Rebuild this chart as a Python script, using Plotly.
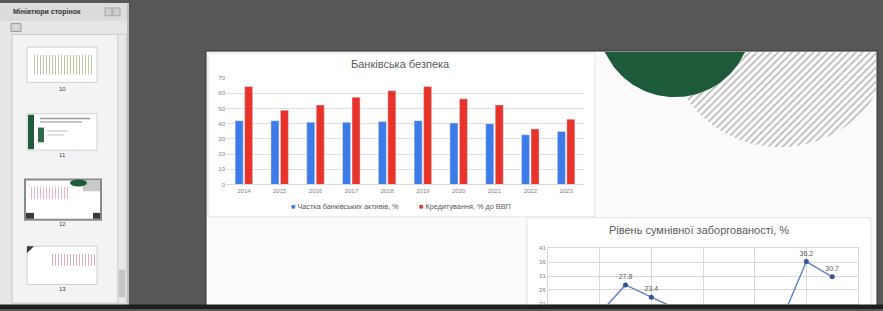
import numpy as np
import plotly.graph_objects as go

# ---------------- data ----------------
years = ["2014", "2015", "2016", "2017", "2018", "2019", "2020", "2021", "2022", "2023"]
bank_assets_share = [42, 42, 41, 41, 41.5, 42, 40.5, 40, 32.7, 34.9]
credit_to_gdp = [64.6, 48.9, 52.4, 57.5, 61.8, 64.6, 56.4, 52.4, 36.6, 43]
series_names = ["Частка банківських активів, %", "Кредитування, % до ВВП"]

doubt_years = [2014, 2015, 2016, 2017, 2018, 2019, 2020, 2021, 2022, 2023]
doubtful_debt = [17.6, 27.8, 23.4, 19.1, 16.0, 15.3, 14.7, 14.2, 36.2, 30.7]

bar_title = "Банківська безпека"
line_title = "Рівень сумнівної заборгованості, %"
panel_title = "Мініатюри сторінок"
page_numbers = ["10", "11", "12", "13"]

BLUE, RED = "#3d7be8", "#e8332b"

# ---------------- helpers (pixel -> paper) ----------------
W, H = 883, 311
def px(x): return x / W
def py(y): return 1 - y / H

FONT = "Liberation Sans, Arial, sans-serif"
shapes = []
def rect(x0, y0, x1, y1, fill, line=None, lw=1, layer="below"):
    shapes.append(dict(type="rect", xref="paper", yref="paper",
                       x0=px(x0), x1=px(x1), y0=py(y1), y1=py(y0),
                       fillcolor=fill, layer=layer,
                       line=dict(color=line or fill, width=lw if line else 0)))

# app background & left panel
rect(0, 0, 128, 311, "#e6e6e6")
rect(0, 0, 128, 18, "#dcdcdc")
rect(105, 5, 112, 13, "#cfcfcf", "#a8a8a8")
rect(113, 5, 120, 13, "#cfcfcf", "#a8a8a8")
rect(11, 21, 21, 29, "#d4d4d4", "#9a9a9a")
rect(12, 32, 118, 306, "#f3f3f5", "#c8c8c8")
rect(118, 32, 126, 306, "#e9e9e9", "#d0d0d0")
rect(119, 272, 125, 300, "#c4c4c4")
rect(127, 0, 129, 311, "#bdbdbd")
# thumbnails
rect(27, 45, 97, 81, "#ffffff", "#cfcfcf")
rect(27, 113, 97, 150, "#ffffff", "#cfcfcf")
rect(28, 114, 34, 149, "#1f5a3b")
rect(38, 127, 44, 142, "#2f6a4a")
rect(40, 117, 90, 118.5, "#9a9a9a")
rect(40, 120.5, 82, 122, "#b0b0b0")
rect(47, 130, 68, 131, "#c0c0c0")
rect(47, 134, 64, 135, "#c0c0c0")
rect(25, 180, 101, 221, "#ffffff", "#8a8a8a", 2)
rect(83, 181, 100, 192, "#c9c9c9")
rect(26, 214, 34, 220, "#3a3a3a")
rect(93, 214, 100, 220, "#3a3a3a")
rect(27, 248, 97, 287, "#ffffff", "#cfcfcf")
shapes.append(dict(type="circle", xref="paper", yref="paper", layer="below",
                   x0=px(70), x1=px(87), y0=py(187), y1=py(180),
                   fillcolor="#1f5a3b", line=dict(width=0)))
shapes.append(dict(type="path", xref="paper", yref="paper", layer="below",
                   path=f"M{px(27)},{py(248)} L{px(34)},{py(248)} L{px(27)},{py(255)} Z",
                   fillcolor="#3a3a3a", line=dict(width=0)))

# slide
rect(206, 49, 877, 310, "#fdfafc", "#333333", 1)
rect(208, 51, 595, 218, "#ffffff", "#e3e3e3")
rect(527, 219, 871, 310, "#ffffff", "#e3e3e3")
# bottom dark strip
rect(0, 307.5, 883, 312, "#1f1f22", layer="above")

fig = go.Figure()

# ---------- decorative pixel-space traces (xaxis/yaxis covering whole figure) ----------
def poly_rect(x0, y0, x1, y1):
    return [x0, x1, x1, x0, x0], [y0, y0, y1, y1, y0]

def stripes(x0, y0, x1, y1, color, size=3):
    xs, ys = poly_rect(x0, y0, x1, y1)
    fig.add_trace(go.Scatter(x=xs, y=ys, fill="toself", mode="lines", line=dict(width=0),
                             fillcolor="rgba(0,0,0,0)",
                             fillpattern=dict(shape="|", fgcolor=color, bgcolor="rgba(255,255,255,0)",
                                              size=size, solidity=0.35),
                             hoverinfo="skip", showlegend=False, xaxis="x", yaxis="y"))

stripes(33, 53, 93, 73, "#7a9a4a")
stripes(30, 187, 68, 200, "#d4708e")
stripes(52, 256, 96, 268, "#c85a72")

t = np.linspace(0, 2 * np.pi, 181)
# hatched disc
hx = np.clip(780 + 112 * np.cos(t), 206, 876)
hy = np.clip(35 + 112 * np.sin(t), 50, 400)
fig.add_trace(go.Scatter(x=hx, y=hy, fill="toself", mode="lines", line=dict(width=0),
                         fillcolor="rgba(0,0,0,0)",
                         fillpattern=dict(shape="/", fgcolor="#6e6e6e", bgcolor="rgba(255,255,255,0)",
                                          size=5, solidity=0.3),
                         hoverinfo="skip", showlegend=False, xaxis="x", yaxis="y"))
# green disc
gx = 675 + 76 * np.cos(t)
gy = np.clip(20 + 76 * np.sin(t), 50, 400)
fig.add_trace(go.Scatter(x=gx, y=gy, fill="toself", mode="lines", line=dict(width=0),
                         fillcolor="#1c5a3a", hoverinfo="skip", showlegend=False,
                         xaxis="x", yaxis="y"))

# ---------------- bar chart ----------------
fig.add_trace(go.Bar(x=years, y=bank_assets_share, name=series_names[0], showlegend=False,
                     marker_color=BLUE, xaxis="x2", yaxis="y2"))
fig.add_trace(go.Bar(x=years, y=credit_to_gdp, name=series_names[1], showlegend=False,
                     marker_color=RED, xaxis="x2", yaxis="y2"))

# ---------------- line chart ----------------
Y3_MIN = 41 - 57 / 2.84
labels = [f"{v:.1f}" if v > Y3_MIN - 4 else "" for v in doubtful_debt]  # only labels in view
fig.add_trace(go.Scatter(x=doubt_years, y=doubtful_debt, mode="lines+markers+text",
                         text=labels, textposition="top center",
                         textfont=dict(size=7, color="#595959", family=FONT),
                         line=dict(color="#6585c8", width=1.5),
                         marker=dict(color="#34549a", size=5), cliponaxis=False,
                         showlegend=False, xaxis="x3", yaxis="y3"))

def ann(text, x, y, size, color, xanchor="center"):
    return dict(text=text, x=px(x), y=py(y), xref="paper", yref="paper",
                xanchor=xanchor, yanchor="middle", showarrow=False,
                font=dict(size=size, color=color, family=FONT))

annotations = [
    ann(bar_title, 400, 62, 11, "#595959"),
    ann(line_title, 699, 231, 11, "#595959"),
    ann("<b>" + panel_title + "</b>", 11, 9, 7, "#333333", "left"),
]
# legend of the bar chart (compact key + label, as in the original)
for nm, col, lx in zip(series_names, [BLUE, RED], [289, 417]):
    annotations.append(ann(f'<span style="color:{col}">■</span> {nm}', lx, 207, 7.3, "#595959", "left"))
for label, yy in zip(page_numbers, [88, 155, 225, 292]):
    annotations.append(ann(label, 62, yy, 6, "#444444"))

tickfont = dict(size=6, color="#7f7f7f", family=FONT)
fig.update_layout(
    width=W, height=H, margin=dict(l=0, r=0, t=0, b=0),
    paper_bgcolor="#575757", plot_bgcolor="rgba(0,0,0,0)",
    font=dict(family=FONT), showlegend=False,
    shapes=shapes, annotations=annotations,
    barmode="group", bargap=0.47, bargroupgap=0.15,
    xaxis=dict(domain=[0, 1], range=[0, W], visible=False, fixedrange=True),
    yaxis=dict(domain=[0, 1], range=[H, 0], visible=False, fixedrange=True),
    xaxis2=dict(domain=[px(226), px(584)], anchor="y2", type="category",
                tickfont=tickfont, showgrid=False, showline=True, linecolor="#d9d9d9",
                ticks=""),
    yaxis2=dict(domain=[py(185), py(76.7)], anchor="x2", range=[0, 70], dtick=10,
                tickfont=tickfont, gridcolor="#dedede", zeroline=False, ticks=""),
    xaxis3=dict(domain=[px(548), px(858)], anchor="y3", range=[2012, 2024], dtick=2, tick0=2012,
                showticklabels=False, gridcolor="#d9d9d9", showline=True, mirror=True,
                linecolor="#d9d9d9", zeroline=False),
    yaxis3=dict(domain=[py(307), py(250)], anchor="x3", range=[Y3_MIN, 41], tick0=1, dtick=5,
                tickfont=tickfont, gridcolor="#d9d9d9", showline=True, mirror=True,
                linecolor="#d9d9d9", zeroline=False, ticks=""),
)

fig.write_html("out.html", config={"displayModeBar": False},
               post_script="document.body.style.margin='0';document.body.style.overflow='hidden';")
